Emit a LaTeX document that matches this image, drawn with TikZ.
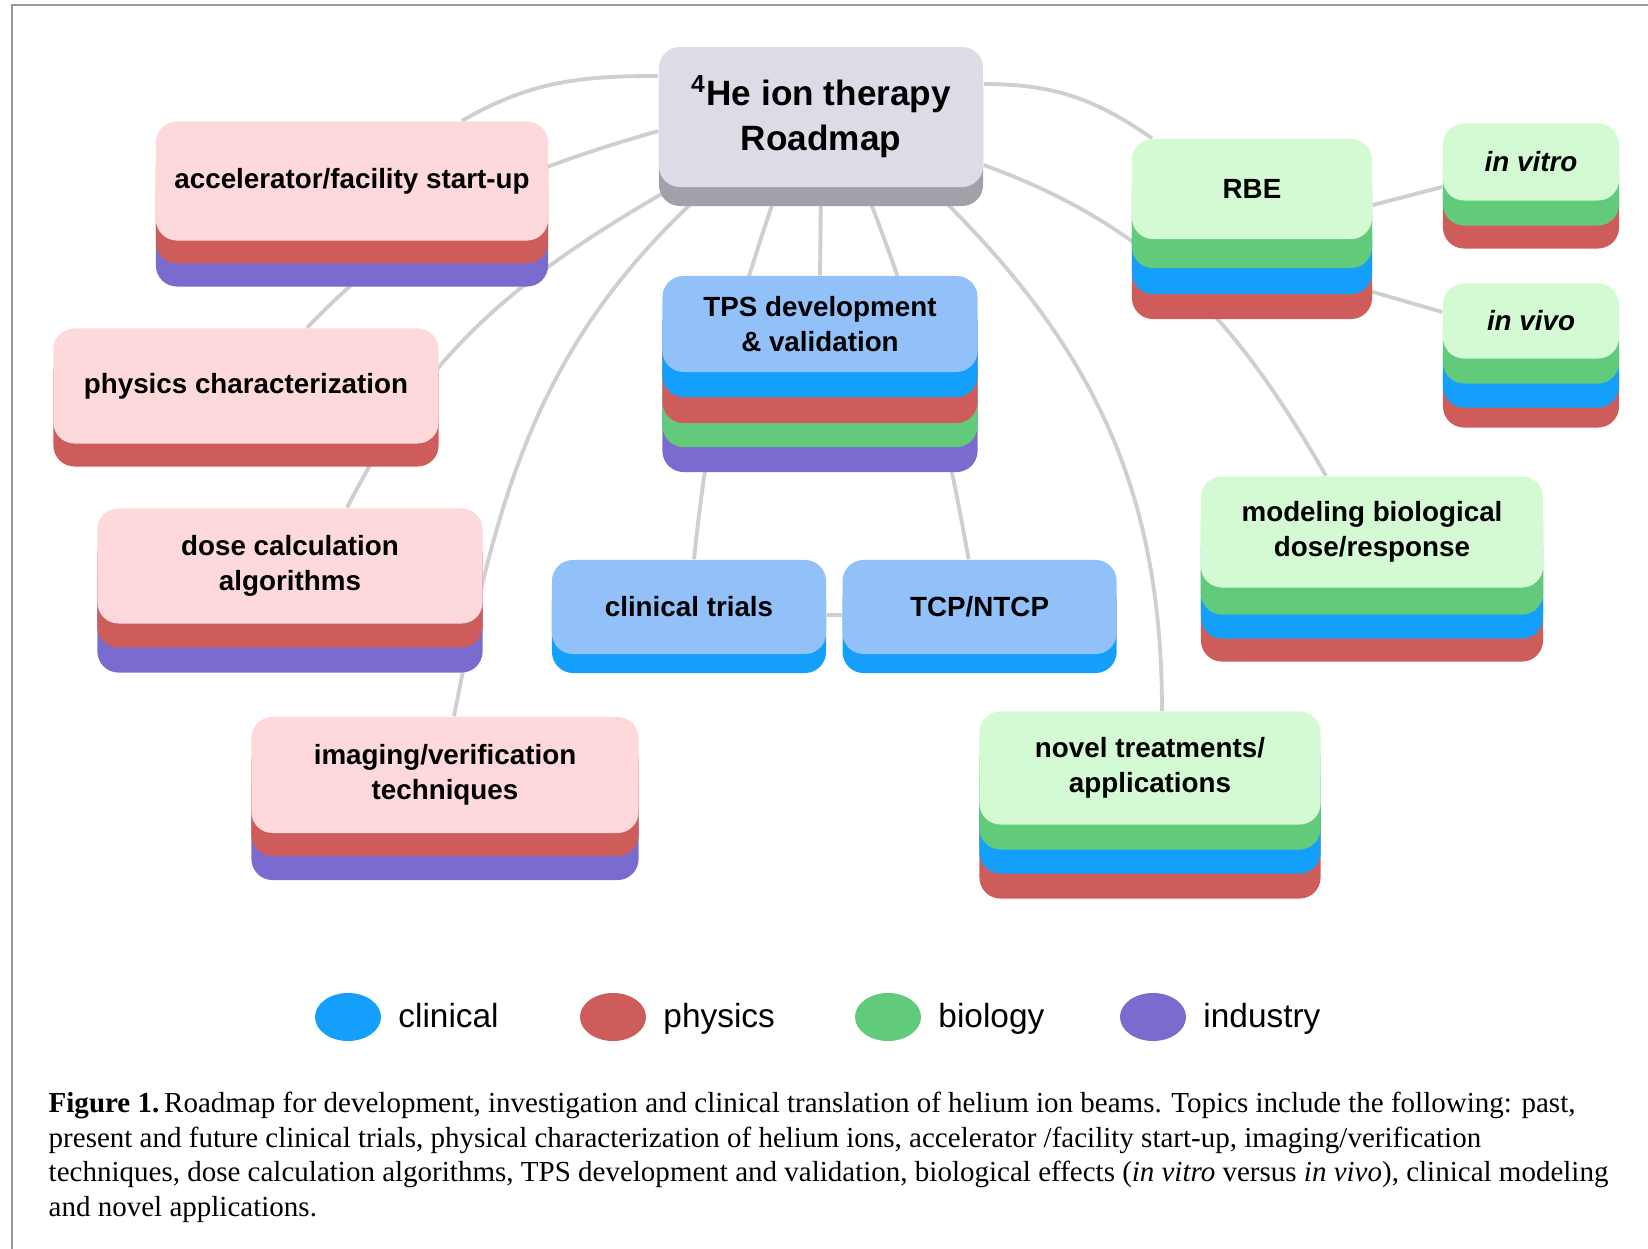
\documentclass[tikz,border=0pt]{standalone}
\usepackage{fontspec}
\setmainfont{Liberation Sans}
\newfontfamily\capfont{Liberation Serif}
\usetikzlibrary{positioning, shapes.geometric, backgrounds}
\definecolor{cpink}{HTML}{FDD9DB}
\definecolor{cred}{HTML}{CD5C5A}
\definecolor{cpurple}{HTML}{7A6BCF}
\definecolor{clblue}{HTML}{92C1FA}
\definecolor{cblue}{HTML}{14A0FA}
\definecolor{clgreen}{HTML}{D3FAD3}
\definecolor{cgreen}{HTML}{62CB7B}
\definecolor{croot}{HTML}{DCDCE6}
\definecolor{crootdark}{HTML}{A1A1AA}
\definecolor{cline}{HTML}{CFCFCF}
\definecolor{cframe}{HTML}{9A9A9A}
\tikzset{
  topic/.style={fill=#1, rounded corners=6pt, align=center, inner sep=0pt, font=\fontsize{7.9}{10}\selectfont\bfseries},
  band/.style 2 args={preaction={fill=#1, transform canvas={yshift=-#2}}},
  link/.style={draw=cline, line width=1.1pt},
  legdot/.style={ellipse, fill=#1, minimum width=0.66cm, minimum height=0.48cm, inner sep=0pt},
  legtext/.style={inner sep=0pt, text height=1.55ex, text depth=0.45ex, font=\fontsize{9.5}{11}\selectfont},
}

\begin{document}
\begin{tikzpicture}[x=0.01cm, y=0.01cm]
  \useasboundingbox (0,0) rectangle (1648,-1249);
  \draw[cframe, line width=0.7pt] (12,-1249) -- (12,-5) -- (1648,-5);

  \node[topic=croot, band={crootdark}{0.19cm}, minimum width=3.24cm, minimum height=1.40cm, font=\fontsize{10}{12.8}\selectfont\bfseries] (root) at (821,-117) {\textsuperscript{4}He ion therapy\\Roadmap};

  \node[topic=cpink, band={cpurple}{0.46cm}, band={cred}{0.23cm}, minimum width=3.92cm, minimum height=1.19cm] (acc) at (352,-181) {accelerator/facility start-up};
  \node[topic=cpink, band={cred}{0.23cm}, minimum width=3.85cm, minimum height=1.15cm] (phys) at (246,-386) {physics characterization};
  \node[topic=cpink, band={cpurple}{0.49cm}, band={cred}{0.24cm}, minimum width=3.85cm, minimum height=1.15cm] (dose) at (290,-566) {dose calculation\\algorithms};
  \node[topic=cpink, band={cpurple}{0.47cm}, band={cred}{0.23cm}, minimum width=3.87cm, minimum height=1.16cm] (img) at (445,-775) {imaging/verification\\techniques};

  \node[topic=clblue, band={cpurple}{1.00cm}, band={cgreen}{0.75cm}, band={cred}{0.51cm}, band={cblue}{0.25cm}, minimum width=3.15cm, minimum height=0.96cm] (tps) at (820,-324) {TPS development\\\& validation};
  \node[topic=clblue, band={cblue}{0.19cm}, minimum width=2.74cm, minimum height=0.94cm] (ct) at (689,-607) {clinical trials};
  \node[topic=clblue, band={cblue}{0.19cm}, minimum width=2.74cm, minimum height=0.94cm, right=0.15cm of ct] (tcp) {TCP/NTCP};

  \node[topic=clgreen, band={cred}{0.80cm}, band={cblue}{0.55cm}, band={cgreen}{0.29cm}, minimum width=2.40cm, minimum height=1.00cm] (rbe) at (1252,-189) {RBE};
  \node[topic=clgreen, band={cred}{0.48cm}, band={cgreen}{0.25cm}, minimum width=1.76cm, minimum height=0.77cm] (vitro) at (1531,-162) {\textit{in vitro}};
  \node[topic=clgreen, band={cred}{0.69cm}, band={cblue}{0.49cm}, band={cgreen}{0.25cm}, minimum width=1.76cm, minimum height=0.75cm] (vivo) at (1531,-321) {\textit{in vivo}};
  \node[topic=clgreen, band={cred}{0.74cm}, band={cblue}{0.51cm}, band={cgreen}{0.27cm}, minimum width=3.42cm, minimum height=1.11cm] (model) at (1372,-532) {modeling biological\\dose/response};
  \node[topic=clgreen, band={cred}{0.74cm}, band={cblue}{0.49cm}, band={cgreen}{0.25cm}, minimum width=3.41cm, minimum height=1.13cm] (novel) at (1150,-768) {novel treatments/\\applications};

  \begin{scope}[on background layer]
    \draw[link] ([yshift=0.41cm]root.west) to[out=180, in=30] ([xshift=1.1cm]acc.north);
    \draw[link] ([yshift=-0.14cm]root.west) to[out=196, in=46] ([xshift=0.61cm]phys.north);
    \draw[link] ([xshift=0.14cm]root.south west) to[out=210, in=63] ([xshift=0.57cm]dose.north);
    \draw[link] ([xshift=0.5cm]root.south west) to[out=222, in=79] ([xshift=0.09cm]img.north);
    \draw[link] ([xshift=-0.43cm]root.south) to[out=251, in=84] ([xshift=0.05cm]ct.north);
    \draw[link] (root.south) -- (tps.north);
    \draw[link] ([xshift=0.44cm]root.south) to[out=291, in=100] ([xshift=-0.11cm]tcp.north);
    \draw[link] ([yshift=-0.08cm]ct.east) -- ([yshift=-0.08cm]tcp.west);
    \draw[link] ([xshift=-0.53cm]root.south east) to[out=-44, in=90] ([xshift=0.12cm]novel.north);
    \draw[link] ([yshift=0.33cm]root.east) to[out=0, in=145] ([xshift=-1cm]rbe.north);
    \draw[link] ([yshift=-0.48cm]root.east) to[out=-20, in=120] ([xshift=-0.46cm]model.north);
    \draw[link] ([yshift=-0.16cm]rbe.east) -- ([yshift=-0.25cm]vitro.west);
    \draw[link] ([xshift=-0.1cm, yshift=-1cm]rbe.east) -- ([yshift=0.09cm]vivo.west);
  \end{scope}

  \node[legdot=cblue] (lclin) at (348,-1017) {};
  \node[legtext, right=0.16cm of lclin] (tclin) {clinical};
  \node[legdot=cred] (lphys) at (613,-1017) {};
  \node[legtext, right=0.16cm of lphys] (tphys) {physics};
  \node[legdot=cgreen] (lbio) at (888,-1017) {};
  \node[legtext, right=0.16cm of lbio] (tbio) {biology};
  \node[legdot=cpurple] (lind) at (1153,-1017) {};
  \node[legtext, right=0.16cm of lind] (tind) {industry};

  \node[anchor=base west, align=left, inner sep=0pt, font=\capfont\fontsize{8.25}{9.8}\selectfont] (caption) at (48,-1216) {\textbf{Figure 1.}\,Roadmap for development, investigation and clinical translation of helium ion beams. Topics include the following: past,\\present and future clinical trials, physical characterization of helium ions, accelerator /facility start-up, imaging/verification\\techniques, dose calculation algorithms, TPS development and validation, biological effects (\textit{in vitro} versus \textit{in vivo}), clinical modeling\\and novel applications.};
\end{tikzpicture}
\end{document}
